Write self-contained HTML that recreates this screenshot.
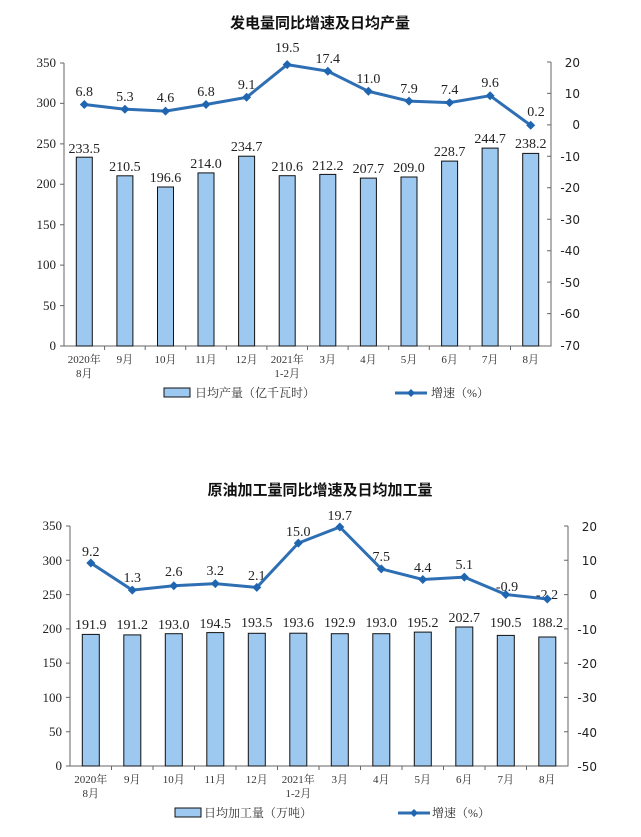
<!DOCTYPE html><html><head><meta charset="utf-8"><style>body{margin:0;background:#fff}svg{display:block}
.s{font-family:"Liberation Serif","Noto Serif CJK SC",serif;font-size:13px;fill:#222}
.t{font-family:"Liberation Sans","Noto Sans CJK SC",sans-serif;font-size:15px;font-weight:bold;fill:#111}
.r{font-family:"DejaVu Sans","Noto Sans CJK SC",sans-serif;font-size:12px;fill:#222}
.c{font-family:"Liberation Serif","Noto Serif CJK SC",serif;font-size:11px;fill:#333}
</style></head><body>
<svg width="641" height="837" viewBox="0 0 641 837">
<text class="t" x="320" y="28" text-anchor="middle">发电量同比增速及日均产量</text>
<g stroke="#666" fill="none"><path d="M64 63V346H551V62"/>
<path d="M64 63h-4M64 103.4h-4M64 143.9h-4M64 184.3h-4M64 224.7h-4M64 265.1h-4M64 305.6h-4M64 346h-4"/>
<path d="M551 62h-4M551 93.4h-4M551 124.9h-4M551 156.3h-4M551 187.8h-4M551 219.2h-4M551 250.7h-4M551 282.1h-4M551 313.6h-4M551 346h-4"/>
<path d="M104.6 346v4M145.2 346v4M185.7 346v4M226.3 346v4M266.9 346v4M307.5 346v4M348.1 346v4M388.7 346v4M429.3 346v4M469.9 346v4M510.5 346v4"/></g>
<g class="s" text-anchor="end"><text x="56" y="67">350</text><text x="56" y="107">300</text><text x="56" y="148">250</text><text x="56" y="188">200</text><text x="56" y="229">150</text><text x="56" y="269">100</text><text x="56" y="310">50</text><text x="56" y="350">0</text></g>
<g class="r" text-anchor="end"><text x="580" y="67">20</text><text x="580" y="98">10</text><text x="580" y="129">0</text><text x="580" y="161">-10</text><text x="580" y="192">-20</text><text x="580" y="224">-30</text><text x="580" y="255">-40</text><text x="580" y="287">-50</text><text x="580" y="318">-60</text><text x="580" y="350">-70</text></g>
<g fill="#9dc8f0" stroke="#111" stroke-width="1">
<rect x="76.3" y="157.2" width="16" height="188.8"/><rect x="116.9" y="175.8" width="16" height="170.2"/><rect x="157.5" y="187" width="16" height="159"/><rect x="198" y="172.9" width="16" height="173.1"/><rect x="238.6" y="156.2" width="16" height="189.8"/><rect x="279.2" y="175.7" width="16" height="170.3"/><rect x="319.8" y="174.4" width="16" height="171.6"/><rect x="360.4" y="178.1" width="16" height="167.9"/><rect x="401" y="177" width="16" height="169"/><rect x="441.6" y="161.1" width="16" height="184.9"/><rect x="482.1" y="148.1" width="16" height="197.9"/><rect x="522.7" y="153.4" width="16" height="192.6"/></g>
<g class="s" text-anchor="middle" style="font-size:14px"><text x="84.3" y="153">233.5</text><text x="124.9" y="171">210.5</text><text x="165.5" y="182">196.6</text><text x="206" y="168">214.0</text><text x="246.6" y="151">234.7</text><text x="287.2" y="171">210.6</text><text x="327.8" y="170">212.2</text><text x="368.4" y="173">207.7</text><text x="409" y="172">209.0</text><text x="449.6" y="156">228.7</text><text x="490.1" y="143">244.7</text><text x="530.7" y="148">238.2</text>
<text x="84.3" y="96">6.8</text><text x="124.9" y="101">5.3</text><text x="165.5" y="102">4.6</text><text x="206" y="96">6.8</text><text x="246.6" y="89">9.1</text><text x="287.2" y="52">19.5</text><text x="327.8" y="63">17.4</text><text x="368.4" y="83">11.0</text><text x="409" y="93">7.9</text><text x="449.6" y="94">7.4</text><text x="490.1" y="87">9.6</text><text x="536" y="116">0.2</text></g>
<polyline fill="none" stroke="#2e6fb4" stroke-width="3" points="84.3,104.5 124.9,109.2 165.5,111.1 206,104.5 246.6,97.3 287.2,64.6 327.8,71.2 368.4,91.3 409,101.1 449.6,102.6 490.1,95.7 530.7,125.3"/>
<g fill="#2065b0"><path d="M84.3 100l4.5 4.5-4.5 4.5-4.5-4.5z"/><path d="M124.9 104.7l4.5 4.5-4.5 4.5-4.5-4.5z"/><path d="M165.5 106.6l4.5 4.5-4.5 4.5-4.5-4.5z"/><path d="M206 100l4.5 4.5-4.5 4.5-4.5-4.5z"/><path d="M246.6 92.8l4.5 4.5-4.5 4.5-4.5-4.5z"/><path d="M287.2 60.1l4.5 4.5-4.5 4.5-4.5-4.5z"/><path d="M327.8 66.7l4.5 4.5-4.5 4.5-4.5-4.5z"/><path d="M368.4 86.8l4.5 4.5-4.5 4.5-4.5-4.5z"/><path d="M409 96.6l4.5 4.5-4.5 4.5-4.5-4.5z"/><path d="M449.6 98.1l4.5 4.5-4.5 4.5-4.5-4.5z"/><path d="M490.1 91.2l4.5 4.5-4.5 4.5-4.5-4.5z"/><path d="M530.7 120.8l4.5 4.5-4.5 4.5-4.5-4.5z"/></g>
<g class="c" text-anchor="middle"><text x="84.3" y="363">2020年</text><text x="84.3" y="377">8月</text><text x="124.9" y="363">9月</text><text x="165.5" y="363">10月</text><text x="206" y="363">11月</text><text x="246.6" y="363">12月</text><text x="287.2" y="363">2021年</text><text x="287.2" y="377">1-2月</text><text x="327.8" y="363">3月</text><text x="368.4" y="363">4月</text><text x="409" y="363">5月</text><text x="449.6" y="363">6月</text><text x="490.1" y="363">7月</text><text x="530.7" y="363">8月</text></g>
<rect x="164" y="388" width="26" height="9" fill="#9dc8f0" stroke="#111"/><text class="c" x="195" y="397" style="font-size:12px">日均产量（亿千瓦时）</text>
<path d="M395 393h32" stroke="#2e6fb4" stroke-width="3"/><path d="M411 389l4 4-4 4-4-4z" fill="#2065b0"/><text class="c" x="431" y="397" style="font-size:12px">增速（%）</text>

<text class="t" x="320" y="495" text-anchor="middle">原油加工量同比增速及日均加工量</text>
<g stroke="#666" fill="none"><path d="M70 526V766H568V526"/>
<path d="M70 526h-4M70 560.3h-4M70 594.6h-4M70 628.9h-4M70 663.1h-4M70 697.4h-4M70 731.7h-4M70 766h-4"/>
<path d="M568 526h-4M568 560.3h-4M568 594.6h-4M568 628.9h-4M568 663.1h-4M568 697.4h-4M568 731.7h-4M568 766h-4"/>
<path d="M111.5 766v4M153 766v4M194.5 766v4M236 766v4M277.5 766v4M319 766v4M360.5 766v4M402 766v4M443.5 766v4M485 766v4M526.5 766v4"/></g>
<g class="s" text-anchor="end"><text x="62" y="530">350</text><text x="62" y="565">300</text><text x="62" y="599">250</text><text x="62" y="633">200</text><text x="62" y="667">150</text><text x="62" y="702">100</text><text x="62" y="736">50</text><text x="62" y="770">0</text></g>
<g class="r" text-anchor="end"><text x="597" y="531">20</text><text x="597" y="565">10</text><text x="597" y="599">0</text><text x="597" y="634">-10</text><text x="597" y="668">-20</text><text x="597" y="702">-30</text><text x="597" y="737">-40</text><text x="597" y="771">-50</text></g>
<g fill="#9dc8f0" stroke="#111" stroke-width="1">
<rect x="82.3" y="634.4" width="17" height="131.6"/><rect x="123.8" y="634.9" width="17" height="131.1"/><rect x="165.3" y="633.7" width="17" height="132.3"/><rect x="206.8" y="632.6" width="17" height="133.4"/><rect x="248.3" y="633.3" width="17" height="132.7"/><rect x="289.8" y="633.2" width="17" height="132.8"/><rect x="331.3" y="633.7" width="17" height="132.3"/><rect x="372.8" y="633.7" width="17" height="132.3"/><rect x="414.3" y="632.1" width="17" height="133.9"/><rect x="455.8" y="627" width="17" height="139"/><rect x="497.3" y="635.4" width="17" height="130.6"/><rect x="538.8" y="637" width="17" height="129"/></g>
<g class="s" text-anchor="middle" style="font-size:14px"><text x="90.8" y="629">191.9</text><text x="132.3" y="629">191.2</text><text x="173.8" y="629">193.0</text><text x="215.3" y="628">194.5</text><text x="256.8" y="627">193.5</text><text x="298.3" y="627">193.6</text><text x="339.8" y="627">192.9</text><text x="381.3" y="627">193.0</text><text x="422.8" y="627">195.2</text><text x="464.3" y="622">202.7</text><text x="505.8" y="627">190.5</text><text x="547.3" y="627">188.2</text>
<text x="90.8" y="556">9.2</text><text x="132.3" y="582">1.3</text><text x="173.8" y="576">2.6</text><text x="215.3" y="575">3.2</text><text x="256.8" y="580">2.1</text><text x="298.3" y="536">15.0</text><text x="339.8" y="520">19.7</text><text x="381.3" y="561">7.5</text><text x="422.8" y="572">4.4</text><text x="464.3" y="569">5.1</text><text x="507" y="591">-0.9</text><text x="547" y="599">-2.2</text></g>
<polyline fill="none" stroke="#2e6fb4" stroke-width="3" points="90.8,563 132.3,590.1 173.8,585.7 215.3,583.6 256.8,587.4 298.3,543.1 339.8,527 381.3,568.9 422.8,579.5 464.3,577.1 505.8,594.5 547.3,599"/>
<g fill="#2065b0"><path d="M90.8 558.5l4.5 4.5-4.5 4.5-4.5-4.5z"/><path d="M132.3 585.6l4.5 4.5-4.5 4.5-4.5-4.5z"/><path d="M173.8 581.2l4.5 4.5-4.5 4.5-4.5-4.5z"/><path d="M215.3 579.1l4.5 4.5-4.5 4.5-4.5-4.5z"/><path d="M256.8 582.9l4.5 4.5-4.5 4.5-4.5-4.5z"/><path d="M298.3 538.6l4.5 4.5-4.5 4.5-4.5-4.5z"/><path d="M339.8 522.5l4.5 4.5-4.5 4.5-4.5-4.5z"/><path d="M381.3 564.4l4.5 4.5-4.5 4.5-4.5-4.5z"/><path d="M422.8 575l4.5 4.5-4.5 4.5-4.5-4.5z"/><path d="M464.3 572.6l4.5 4.5-4.5 4.5-4.5-4.5z"/><path d="M505.8 590l4.5 4.5-4.5 4.5-4.5-4.5z"/><path d="M547.3 594.5l4.5 4.5-4.5 4.5-4.5-4.5z"/></g>
<g class="c" text-anchor="middle"><text x="90.8" y="783">2020年</text><text x="90.8" y="797">8月</text><text x="132.3" y="783">9月</text><text x="173.8" y="783">10月</text><text x="215.3" y="783">11月</text><text x="256.8" y="783">12月</text><text x="298.3" y="783">2021年</text><text x="298.3" y="797">1-2月</text><text x="339.8" y="783">3月</text><text x="381.3" y="783">4月</text><text x="422.8" y="783">5月</text><text x="464.3" y="783">6月</text><text x="505.8" y="783">7月</text><text x="547.3" y="783">8月</text></g>
<rect x="175" y="808" width="26" height="9" fill="#9dc8f0" stroke="#111"/><text class="c" x="204" y="817" style="font-size:12px">日均加工量（万吨）</text>
<path d="M398 813h32" stroke="#2e6fb4" stroke-width="3"/><path d="M414 809l4 4-4 4-4-4z" fill="#2065b0"/><text class="c" x="432" y="817" style="font-size:12px">增速（%）</text>
</svg></body></html>
